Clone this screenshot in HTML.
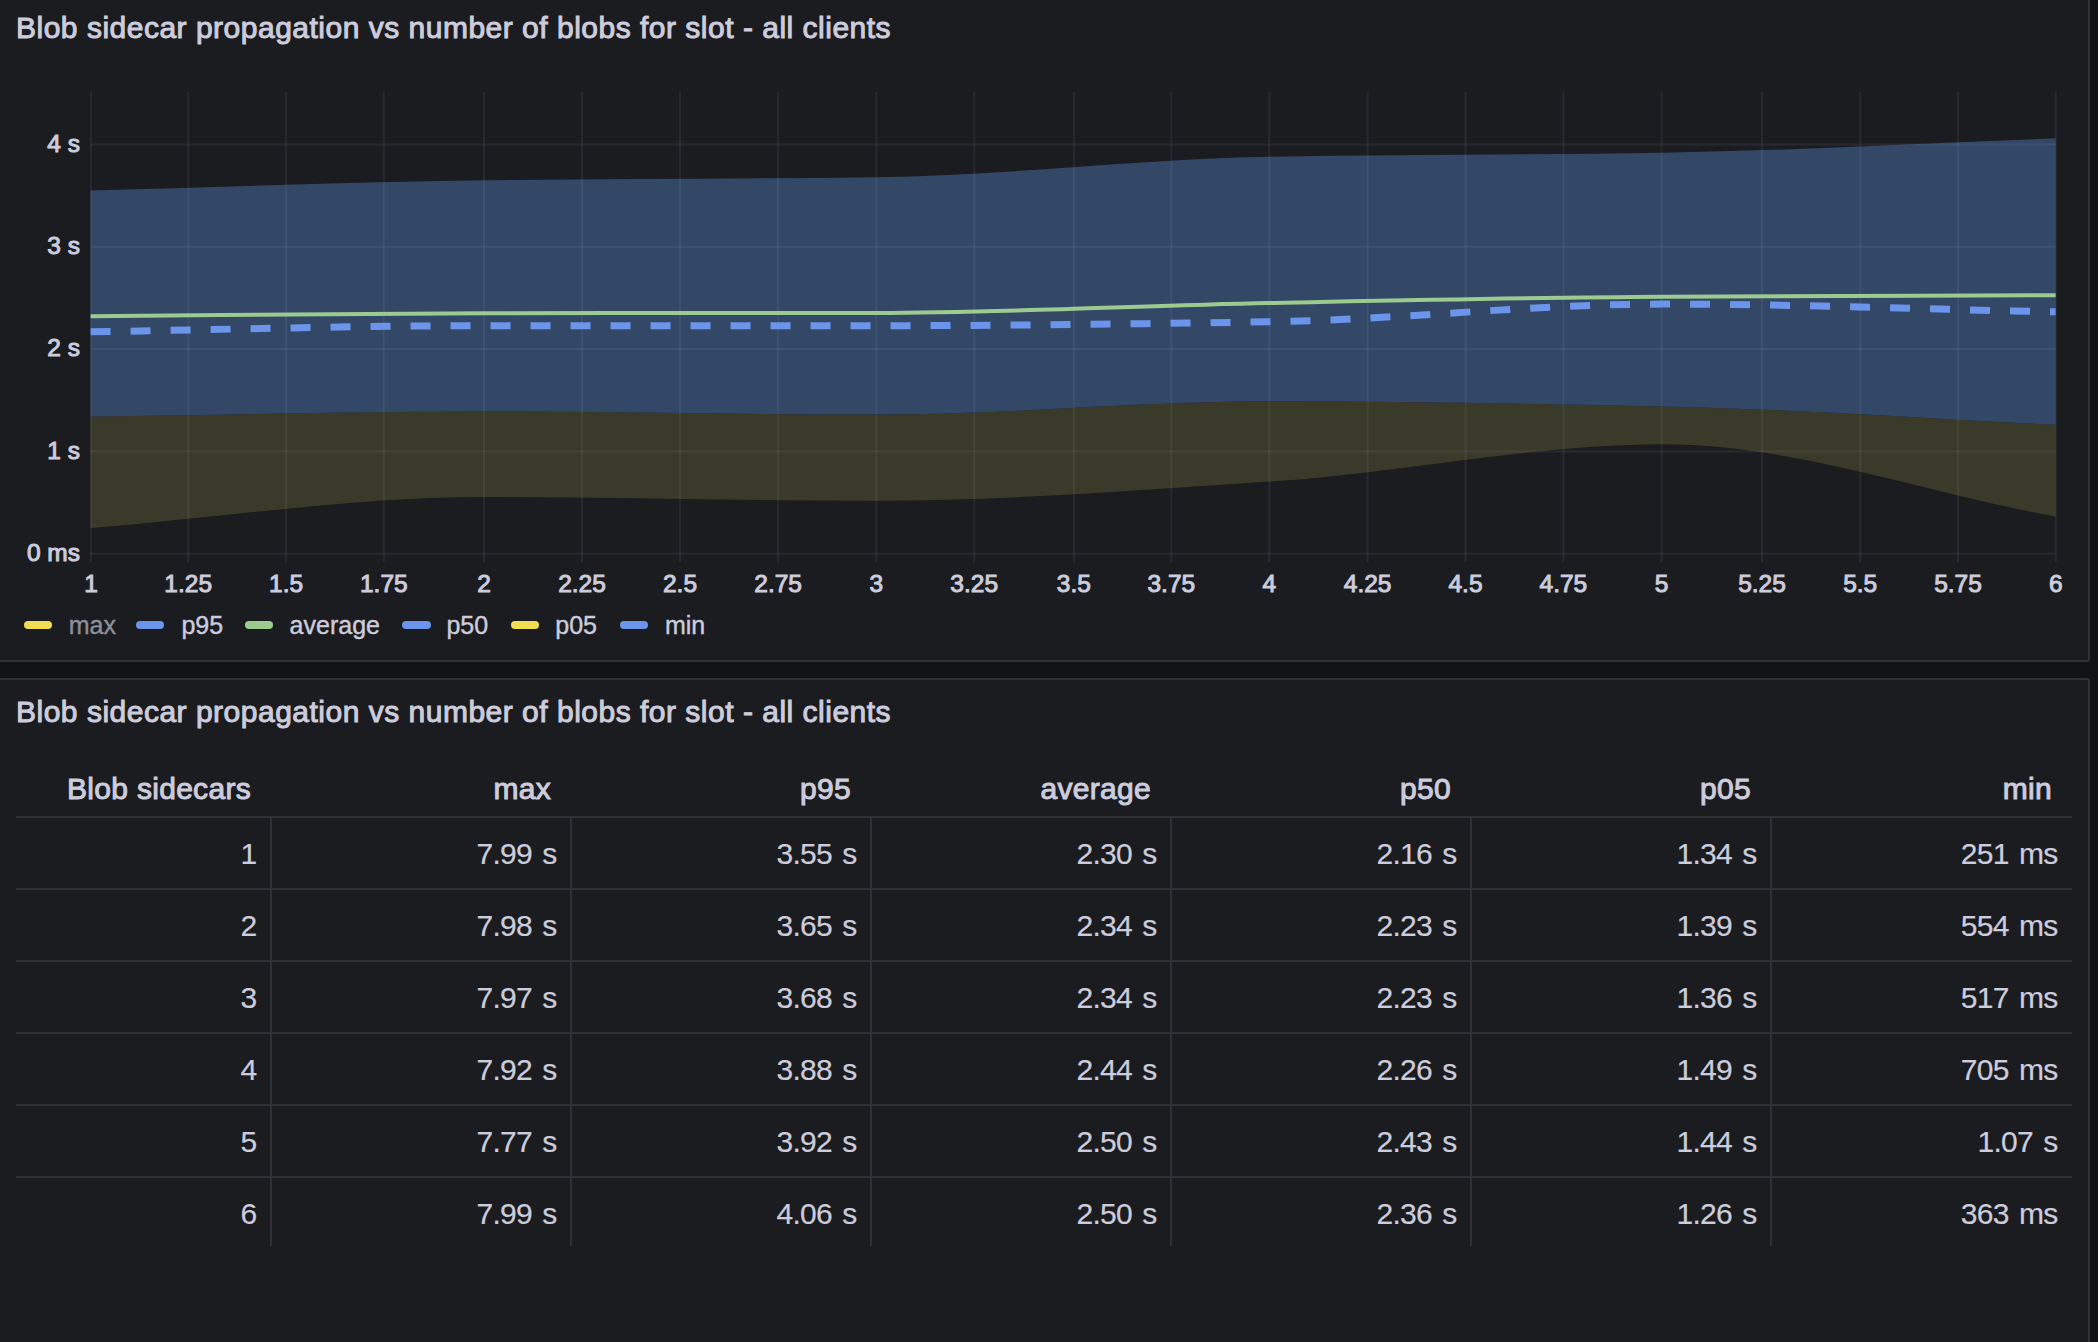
<!DOCTYPE html>
<html><head><meta charset="utf-8"><style>
html,body{margin:0;padding:0}
body{width:2098px;height:1342px;background:#121317;position:relative;overflow:hidden;font-family:"Liberation Sans",sans-serif;color:#ccccdc}
.panel{position:absolute;background:#1b1c20;border:2px solid #2f3136;border-radius:3px;box-sizing:border-box}
.title{position:absolute;left:16px;font-size:30px;line-height:36px;white-space:nowrap;letter-spacing:0.5px;-webkit-text-stroke:1px #ccccdc}
svg{position:absolute;left:0;top:0}
.pill{position:absolute;top:621px;width:28.5px;height:8.3px;border-radius:4.2px}
.leg{position:absolute;top:610px;font-size:25px;line-height:30px;white-space:nowrap;-webkit-text-stroke:0.4px currentColor}
.dim{color:#8e8f9b}
.th{position:absolute;top:771px;font-size:30px;line-height:36px;white-space:nowrap;letter-spacing:0.3px;-webkit-text-stroke:1px #ccccdc}
.td{position:absolute;font-size:30px;line-height:44px;white-space:nowrap;letter-spacing:-0.7px;word-spacing:2.5px;-webkit-text-stroke:0.2px #ccccdc}
.hl{position:absolute;left:16px;width:2056px;height:2px;background:#2f3136}
.vl{position:absolute;width:2px;background:#2f3136}
</style></head><body>
<div class="panel" style="left:-10px;top:-10px;width:2100px;height:672px"></div>
<div class="panel" style="left:-10px;top:678px;width:2100px;height:700px"></div>
<div class="title" style="top:10px">Blob sidecar propagation vs number of blobs for slot - all clients</div>
<svg width="2098" height="662" viewBox="0 0 2098 662">
<path d="M90.60,416.62C221.60,414.91,352.60,411.50,483.60,411.50C614.60,411.50,745.60,414.57,876.60,414.57C1007.60,414.57,1138.60,401.27,1269.60,401.27C1400.60,401.27,1531.60,403.72,1662.60,406.39C1793.60,409.06,1924.60,418.66,2055.60,424.80L2055.60,516.57C1924.60,492.46,1793.60,444.24,1662.60,444.24C1531.60,444.24,1400.60,473.12,1269.60,481.58C1138.60,490.04,1007.60,500.81,876.60,500.81C745.60,500.81,614.60,497.03,483.60,497.03C352.60,497.03,221.60,517.69,90.60,528.02Z" fill="#3a3a2a"/>
<path d="M90.60,190.54C221.60,187.13,352.60,181.88,483.60,180.31C614.60,178.73,745.60,179.02,876.60,177.24C1007.60,175.46,1138.60,159.05,1269.60,156.78C1400.60,154.50,1531.60,154.81,1662.60,152.68C1793.60,150.56,1924.60,143.14,2055.60,138.36L2055.60,424.80C1924.60,418.66,1793.60,409.06,1662.60,406.39C1531.60,403.72,1400.60,401.27,1269.60,401.27C1138.60,401.27,1007.60,414.57,876.60,414.57C745.60,414.57,614.60,411.50,483.60,411.50C352.60,411.50,221.60,414.91,90.60,416.62Z" fill="#334767"/>
<g stroke="rgba(204,214,235,0.075)" stroke-width="2">
<line x1="91.00" y1="92" x2="91.00" y2="562" />
<line x1="188.20" y1="92" x2="188.20" y2="562" />
<line x1="286.10" y1="92" x2="286.10" y2="562" />
<line x1="383.80" y1="92" x2="383.80" y2="562" />
<line x1="484.00" y1="92" x2="484.00" y2="562" />
<line x1="582.00" y1="92" x2="582.00" y2="562" />
<line x1="680.00" y1="92" x2="680.00" y2="562" />
<line x1="778.10" y1="92" x2="778.10" y2="562" />
<line x1="876.30" y1="92" x2="876.30" y2="562" />
<line x1="974.20" y1="92" x2="974.20" y2="562" />
<line x1="1073.90" y1="92" x2="1073.90" y2="562" />
<line x1="1171.30" y1="92" x2="1171.30" y2="562" />
<line x1="1269.20" y1="92" x2="1269.20" y2="562" />
<line x1="1367.60" y1="92" x2="1367.60" y2="562" />
<line x1="1465.50" y1="92" x2="1465.50" y2="562" />
<line x1="1563.40" y1="92" x2="1563.40" y2="562" />
<line x1="1661.60" y1="92" x2="1661.60" y2="562" />
<line x1="1762.00" y1="92" x2="1762.00" y2="562" />
<line x1="1860.20" y1="92" x2="1860.20" y2="562" />
<line x1="1958.00" y1="92" x2="1958.00" y2="562" />
<line x1="2055.80" y1="92" x2="2055.80" y2="562" />
<line x1="90.60" y1="553.70" x2="2055.60" y2="553.70" />
<line x1="90.60" y1="451.40" x2="2055.60" y2="451.40" />
<line x1="90.60" y1="349.10" x2="2055.60" y2="349.10" />
<line x1="90.60" y1="246.80" x2="2055.60" y2="246.80" />
<line x1="90.60" y1="144.50" x2="2055.60" y2="144.50" />
</g>
<path d="M90.60,316.16C221.60,315.17,352.60,313.32,483.60,313.19C614.60,313.07,745.60,313.12,876.60,312.99C1007.60,312.85,1138.60,305.53,1269.60,302.96C1400.60,300.40,1531.60,297.54,1662.60,296.72C1793.60,295.90,1924.60,295.70,2055.60,295.19" fill="none" stroke="#9ccb8f" stroke-width="4"/>
<path d="M90.60,331.81C221.60,329.77,352.60,325.67,483.60,325.67C614.60,325.67,745.60,325.67,876.60,325.67C1007.60,325.67,1138.60,323.91,1269.60,321.79C1400.60,319.66,1531.60,304.09,1662.60,304.09C1793.60,304.09,1924.60,309.27,2055.60,311.86" fill="none" stroke="#6b95ea" stroke-width="7" stroke-dasharray="20 20"/>
<g fill="#ccccdc" font-family="Liberation Sans" font-size="24.5" stroke="#ccccdc" stroke-width="1">
<text x="80" y="561.00" text-anchor="end">0 ms</text>
<text x="80" y="458.70" text-anchor="end">1 s</text>
<text x="80" y="356.40" text-anchor="end">2 s</text>
<text x="80" y="254.10" text-anchor="end">3 s</text>
<text x="80" y="151.80" text-anchor="end">4 s</text>
<text x="91.00" y="592" text-anchor="middle">1</text>
<text x="188.20" y="592" text-anchor="middle">1.25</text>
<text x="286.10" y="592" text-anchor="middle">1.5</text>
<text x="383.80" y="592" text-anchor="middle">1.75</text>
<text x="484.00" y="592" text-anchor="middle">2</text>
<text x="582.00" y="592" text-anchor="middle">2.25</text>
<text x="680.00" y="592" text-anchor="middle">2.5</text>
<text x="778.10" y="592" text-anchor="middle">2.75</text>
<text x="876.30" y="592" text-anchor="middle">3</text>
<text x="974.20" y="592" text-anchor="middle">3.25</text>
<text x="1073.90" y="592" text-anchor="middle">3.5</text>
<text x="1171.30" y="592" text-anchor="middle">3.75</text>
<text x="1269.20" y="592" text-anchor="middle">4</text>
<text x="1367.60" y="592" text-anchor="middle">4.25</text>
<text x="1465.50" y="592" text-anchor="middle">4.5</text>
<text x="1563.40" y="592" text-anchor="middle">4.75</text>
<text x="1661.60" y="592" text-anchor="middle">5</text>
<text x="1762.00" y="592" text-anchor="middle">5.25</text>
<text x="1860.20" y="592" text-anchor="middle">5.5</text>
<text x="1958.00" y="592" text-anchor="middle">5.75</text>
<text x="2055.80" y="592" text-anchor="middle">6</text>
</g>
</svg>
<div class="pill" style="left:23.6px;background:#f2dc52"></div><div class="leg dim" style="left:68.7px">max</div><div class="pill" style="left:135.9px;background:#6b95ea"></div><div class="leg" style="left:181.4px">p95</div><div class="pill" style="left:244.9px;background:#9ccb8f"></div><div class="leg" style="left:289.6px">average</div><div class="pill" style="left:402.0px;background:#6b95ea"></div><div class="leg" style="left:446.4px">p50</div><div class="pill" style="left:510.7px;background:#f2dc52"></div><div class="leg" style="left:555.3px">p05</div><div class="pill" style="left:619.7px;background:#6b95ea"></div><div class="leg" style="left:664.9px">min</div>
<div class="title" style="top:694px">Blob sidecar propagation vs number of blobs for slot - all clients</div>
<div class="th" style="right:1847.0px">Blob sidecars</div><div class="th" style="right:1547.0px">max</div><div class="th" style="right:1247.0px">p95</div><div class="th" style="right:947.0px">average</div><div class="th" style="right:647.0px">p50</div><div class="th" style="right:347.0px">p05</div><div class="th" style="right:46.0px">min</div><div class="hl" style="top:816px"></div><div class="td" style="right:1841.5px;top:831.5px">1</div><div class="td" style="right:1541.5px;top:831.5px">7.99 s</div><div class="td" style="right:1241.5px;top:831.5px">3.55 s</div><div class="td" style="right:941.5px;top:831.5px">2.30 s</div><div class="td" style="right:641.5px;top:831.5px">2.16 s</div><div class="td" style="right:341.5px;top:831.5px">1.34 s</div><div class="td" style="right:40.5px;top:831.5px">251 ms</div><div class="hl" style="top:888px"></div><div class="td" style="right:1841.5px;top:903.5px">2</div><div class="td" style="right:1541.5px;top:903.5px">7.98 s</div><div class="td" style="right:1241.5px;top:903.5px">3.65 s</div><div class="td" style="right:941.5px;top:903.5px">2.34 s</div><div class="td" style="right:641.5px;top:903.5px">2.23 s</div><div class="td" style="right:341.5px;top:903.5px">1.39 s</div><div class="td" style="right:40.5px;top:903.5px">554 ms</div><div class="hl" style="top:960px"></div><div class="td" style="right:1841.5px;top:975.5px">3</div><div class="td" style="right:1541.5px;top:975.5px">7.97 s</div><div class="td" style="right:1241.5px;top:975.5px">3.68 s</div><div class="td" style="right:941.5px;top:975.5px">2.34 s</div><div class="td" style="right:641.5px;top:975.5px">2.23 s</div><div class="td" style="right:341.5px;top:975.5px">1.36 s</div><div class="td" style="right:40.5px;top:975.5px">517 ms</div><div class="hl" style="top:1032px"></div><div class="td" style="right:1841.5px;top:1047.5px">4</div><div class="td" style="right:1541.5px;top:1047.5px">7.92 s</div><div class="td" style="right:1241.5px;top:1047.5px">3.88 s</div><div class="td" style="right:941.5px;top:1047.5px">2.44 s</div><div class="td" style="right:641.5px;top:1047.5px">2.26 s</div><div class="td" style="right:341.5px;top:1047.5px">1.49 s</div><div class="td" style="right:40.5px;top:1047.5px">705 ms</div><div class="hl" style="top:1104px"></div><div class="td" style="right:1841.5px;top:1119.5px">5</div><div class="td" style="right:1541.5px;top:1119.5px">7.77 s</div><div class="td" style="right:1241.5px;top:1119.5px">3.92 s</div><div class="td" style="right:941.5px;top:1119.5px">2.50 s</div><div class="td" style="right:641.5px;top:1119.5px">2.43 s</div><div class="td" style="right:341.5px;top:1119.5px">1.44 s</div><div class="td" style="right:40.5px;top:1119.5px">1.07 s</div><div class="hl" style="top:1176px"></div><div class="td" style="right:1841.5px;top:1191.5px">6</div><div class="td" style="right:1541.5px;top:1191.5px">7.99 s</div><div class="td" style="right:1241.5px;top:1191.5px">4.06 s</div><div class="td" style="right:941.5px;top:1191.5px">2.50 s</div><div class="td" style="right:641.5px;top:1191.5px">2.36 s</div><div class="td" style="right:341.5px;top:1191.5px">1.26 s</div><div class="td" style="right:40.5px;top:1191.5px">363 ms</div><div class="vl" style="left:269.5px;top:816px;height:430px"></div><div class="vl" style="left:569.5px;top:816px;height:430px"></div><div class="vl" style="left:869.5px;top:816px;height:430px"></div><div class="vl" style="left:1169.5px;top:816px;height:430px"></div><div class="vl" style="left:1469.5px;top:816px;height:430px"></div><div class="vl" style="left:1769.5px;top:816px;height:430px"></div>
</body></html>
